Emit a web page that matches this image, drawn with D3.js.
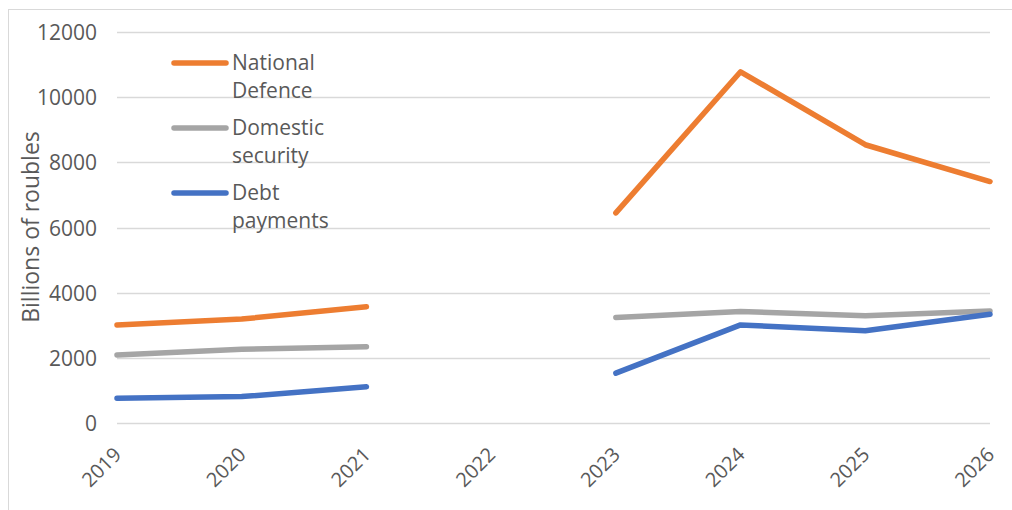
<!DOCTYPE html>
<html>
<head>
<meta charset="utf-8" />
<title>Spending</title>
<script src="https://d3js.org/d3.v7.min.js"></script>
<style>
  body { margin: 0; background: #fff; }
  text { font-family: "Open Sans", sans-serif; fill: #595959; }
</style>
</head>
<body>
<svg id="viz"></svg>
<script>
// years along the x axis
var years = ["2019", "2020", "2021", "2022", "2023", "2024", "2025", "2026"];
// billions of roubles, null = no data
var defence  = [3010, 3190, 3570, null, 6450, 10780, 8540, 7410];
var security = [2090, 2260, 2340, null, 3240, 3420, 3290, 3440];
var debt     = [760, 810, 1110, null, 1530, 3010, 2830, 3340];
var yTicks = [0, 2000, 4000, 6000, 8000, 10000, 12000];
var seriesNames = [["National", "Defence"], ["Domestic", "security"], ["Debt", "payments"]];

var colors = ["#ED7D31", "#A5A5A5", "#4472C4"];
var allSeries = [defence, security, debt];

var W = 1012, H = 510;
var svg = d3.select("#viz").attr("width", W).attr("height", H);

// outer chart border (right and bottom edges fall outside the picture)
svg.append("rect")
  .attr("x", 8.5).attr("y", 9.5)
  .attr("width", 1020).attr("height", 520)
  .attr("fill", "none").attr("stroke", "#D9D9D9");

var xScale = d3.scalePoint().domain(years).range([117, 990]).padding(0);
var yScale = d3.scaleLinear().domain([0, 12000]).range([423, 32]);

// gridlines
svg.append("g").selectAll("line")
  .data(yTicks)
  .enter().append("line")
  .attr("x1", 117).attr("x2", 990)
  .attr("y1", function(d) { return Math.round(yScale(d)) + 0.5; })
  .attr("y2", function(d) { return Math.round(yScale(d)) + 0.5; })
  .attr("stroke", "#D9D9D9").attr("stroke-width", 1.3);

// y axis labels
var yAxis = d3.axisLeft(yScale).tickValues(yTicks).tickFormat(d3.format("d"))
  .tickSize(0).tickPadding(0);
var gy = svg.append("g").attr("transform", "translate(97,0)").call(yAxis);
gy.select(".domain").remove();
gy.selectAll("text")
  .style("font-size", "21px")
  .attr("fill", "#595959")
  .attr("dy", "0.36em");

// x axis labels
var xAxis = d3.axisBottom(xScale).tickSize(0).tickPadding(0);
var gx = svg.append("g").attr("transform", "translate(0,423)").call(xAxis);
gx.select(".domain").remove();
gx.selectAll("text")
  .style("font-size", "20px")
  .attr("fill", "#595959")
  .attr("text-anchor", "end")
  .attr("dy", "0")
  .attr("transform", "translate(5,33) rotate(-45)");

// y axis title
svg.append("text")
  .attr("transform", "translate(39,227) rotate(-90)")
  .attr("text-anchor", "middle")
  .style("font-size", "23px")
  .text("Billions of roubles");

// lines
var line = d3.line()
  .defined(function(d) { return d != null; })
  .x(function(d, i) { return xScale(years[i]); })
  .y(function(d) { return yScale(d); });

allSeries.forEach(function(s, k) {
  svg.append("path")
    .datum(s)
    .attr("d", line)
    .attr("fill", "none")
    .attr("stroke", colors[k])
    .attr("stroke-width", 5.5)
    .attr("stroke-linecap", "round")
    .attr("stroke-linejoin", "round");
});

// legend
var legend = svg.append("g");
seriesNames.forEach(function(n, k) {
  var y = 63 + k * 65;
  legend.append("line")
    .attr("x1", 174).attr("x2", 226)
    .attr("y1", y).attr("y2", y)
    .attr("stroke", colors[k]).attr("stroke-width", 5.5)
    .attr("stroke-linecap", "round");
  legend.append("text")
    .attr("x", 232).attr("y", y + 7)
    .style("font-size", "21px")
    .text(n[0]);
  legend.append("text")
    .attr("x", 232).attr("y", y + 35)
    .style("font-size", "21px")
    .text(n[1]);
});
</script>
</body>
</html>
